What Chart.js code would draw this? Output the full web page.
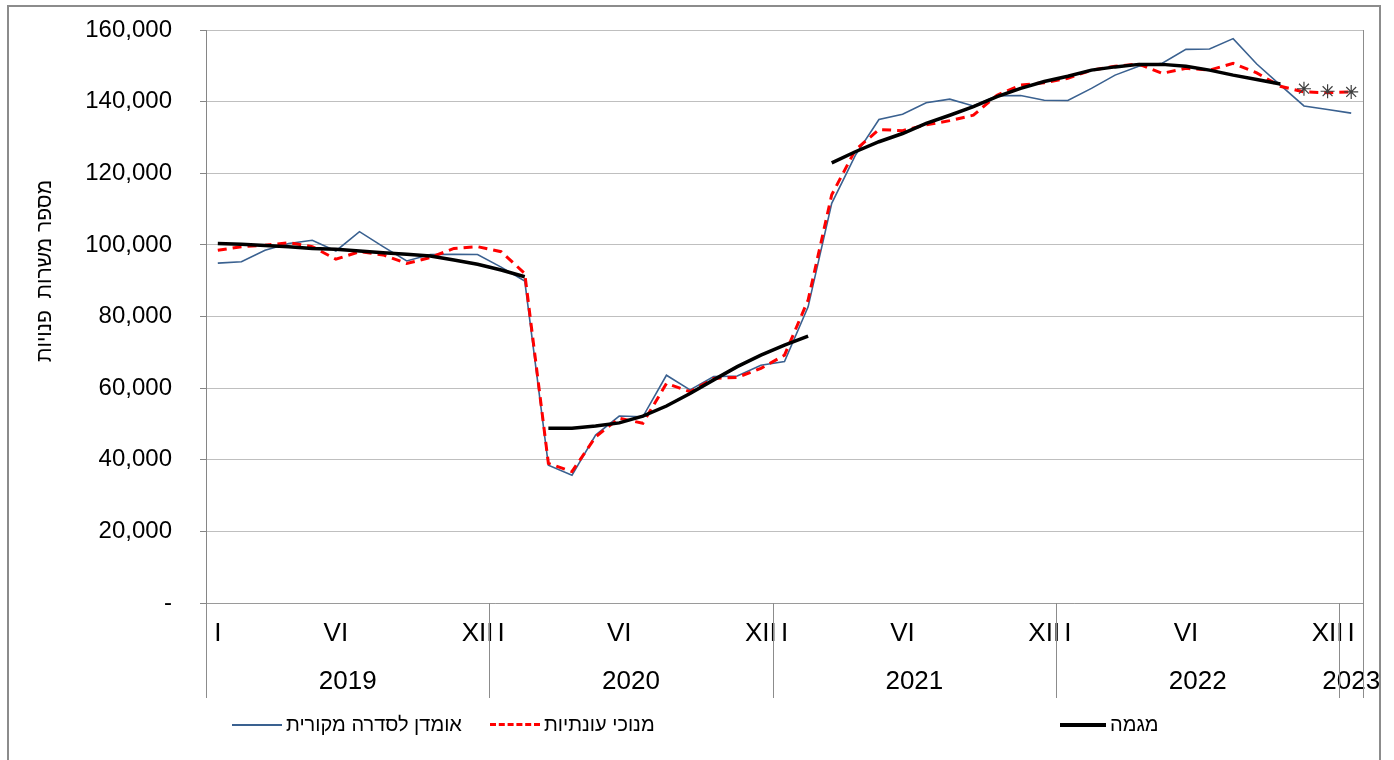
<!DOCTYPE html>
<html>
<head>
<meta charset="utf-8">
<script src="https://cdn.jsdelivr.net/npm/chart.js@4/dist/chart.umd.min.js"></script>
<style>
body{margin:0;background:#fff;font-family:"Liberation Sans",Arial,sans-serif;}
#wrap{position:relative;width:1394px;height:760px;overflow:hidden;}
#frame{position:absolute;left:7px;top:5px;width:1374px;height:780px;border:2px solid #8c8c8c;box-sizing:border-box;}
#chart{position:absolute;left:0;top:0;}
.leg{position:absolute;top:713px;display:flex;align-items:center;font-size:20px;color:#000;white-space:nowrap;}
.leg .smp{display:inline-block;width:50px;margin-right:4px;}
</style>
</head>
<body>
<div id="wrap">
  <div id="frame"></div>
  <canvas id="chart" width="1394" height="760"></canvas>
  <div class="leg" style="left:232px"><span class="smp" style="border-top:2px solid #3a6190"></span><span dir="rtl" id="lg0"></span></div>
  <div class="leg" style="left:490px"><span class="smp" style="border-top:3px dashed #ff0000"></span><span dir="rtl" id="lg1"></span></div>
  <div class="leg" style="left:1060px"><span class="smp" style="border-top:4px solid #000;width:46px"></span><span dir="rtl" id="lg2"></span></div>
</div>
<script>
// months Jan 2019 .. Jan 2023
const months = [1,2,3,4,5,6,7,8,9,10,11,12, 1,2,3,4,5,6,7,8,9,10,11,12, 1,2,3,4,5,6,7,8,9,10,11,12, 1,2,3,4,5,6,7,8,9,10,11,12, 1];
const years = ['2019','2019','2019','2019','2019','2019','2019','2019','2019','2019','2019','2019',
  '2020','2020','2020','2020','2020','2020','2020','2020','2020','2020','2020','2020',
  '2021','2021','2021','2021','2021','2021','2021','2021','2021','2021','2021','2021',
  '2022','2022','2022','2022','2022','2022','2022','2022','2022','2022','2022','2022',
  '2023'];
const romanTicks = {1:'I', 6:'VI', 12:'XII'};

const originalName = 'אומדן לסדרה מקורית';
const adjustedName = 'מנוכי עונתיות';
const trendName = 'מגמה';
const yTitle = 'מספר משרות  פנויות';

const original = [94900,95300,98500,100400,101300,98300,103700,99500,95500,97300,97400,97300,
  93800,89900,38500,35700,46900,52200,52000,63600,59500,63200,63400,66400,
  67400,82700,111600,125000,135000,136500,139700,140700,138800,141600,141700,140400,
  140300,143700,147400,149900,150700,154600,154700,157600,150500,144600,138800,137800,
  136800];
const adjusted = [98500,99500,99900,100600,99500,96000,98100,97200,94800,96500,99000,99500,
  98100,92000,39000,36700,46400,51600,50200,61300,59000,62700,63000,65500,
  69200,84600,114000,126500,132200,131900,133500,134700,136200,141800,144600,145300,
  146500,148800,149900,150500,147900,149300,148800,150700,148000,144300,142700,142500,
  142700];
const trend2019 = [100400,100200,99800,99500,99000,98800,98300,97800,97400,96900,95800,94600,93000,91100,
  null,null,null,null,null,null,null,null,null,null,
  null,null,null,null,null,null,null,null,null,null,null,null,
  null,null,null,null,null,null,null,null,null,null,null,null,null];
const trend2020 = [null,null,null,null,null,null,null,null,null,null,null,null,null,null,
  48800,48800,49400,50300,52200,55000,58500,62300,66000,69200,72000,74500,
  null,null,null,null,null,null,null,null,null,null,null,null,
  null,null,null,null,null,null,null,null,null,null,null,null,null];
const trend2021 = [null,null,null,null,null,null,null,null,null,null,null,null,null,null,
  null,null,null,null,null,null,null,null,null,null,null,null,
  122900,126000,128800,131100,133900,136200,138600,141400,143700,145600,147100,148800,
  149700,150400,150400,149900,148800,147400,146200,144900,null,null,null];
const prelim = [null,null,null,null,null,null,null,null,null,null,null,null,null,null,
  null,null,null,null,null,null,null,null,null,null,null,null,
  null,null,null,null,null,null,null,null,null,null,null,null,
  null,null,null,null,null,null,null,null,143600,142900,142700];

document.getElementById('lg0').textContent = originalName;
document.getElementById('lg1').textContent = adjustedName;
document.getElementById('lg2').textContent = trendName;

Chart.defaults.font.family = '"Liberation Sans", Arial, sans-serif';
Chart.defaults.color = '#000';

const yearBands = {
  id: 'yearBands',
  afterDraw(chart) {
    const {ctx, chartArea, scales: {x}} = chart;
    const half = (x.getPixelForValue(1) - x.getPixelForValue(0)) / 2;
    const bottom = chartArea.bottom + 95;
    ctx.save();
    ctx.strokeStyle = '#8c8c8c';
    ctx.lineWidth = 1;
    ctx.fillStyle = '#000';
    ctx.font = '26px "Liberation Sans", Arial';
    ctx.textAlign = 'center';
    ctx.textBaseline = 'middle';
    let start = 0;
    for (let i = 1; i <= years.length; i++) {
      if (i === years.length || years[i] !== years[start]) {
        const x0 = x.getPixelForValue(start) - half;
        const x1 = x.getPixelForValue(i - 1) + half;
        ctx.fillText(years[start], (x0 + x1) / 2, chartArea.bottom + 79);
        const px = Math.round(x0) + 0.5;
        ctx.beginPath();
        ctx.moveTo(px, chartArea.bottom);
        ctx.lineTo(px, bottom);
        ctx.stroke();
        start = i;
      }
    }
    const rx = Math.round(chartArea.right) + 0.5;
    ctx.beginPath();
    ctx.moveTo(rx, chartArea.top);
    ctx.lineTo(rx, bottom);
    ctx.stroke();
    // y axis title
    ctx.translate(45, 271);
    ctx.rotate(-Math.PI / 2);
    ctx.font = '21px "Liberation Sans", Arial';
    ctx.direction = 'rtl';
    ctx.fillText(yTitle, 0, 0);
    ctx.restore();
  }
};

new Chart(document.getElementById('chart').getContext('2d'), {
  type: 'line',
  data: {
    labels: months,
    datasets: [
      {label: 'prelim', data: prelim, showLine: false, pointStyle: 'star', pointRadius: 7,
        borderColor: '#3f3f3f', borderWidth: 1.2, order: -1},
      {label: trendName, data: trend2019, borderColor: '#000', borderWidth: 3.5, order: 0},
      {label: trendName, data: trend2020, borderColor: '#000', borderWidth: 3.5, order: 0},
      {label: trendName, data: trend2021, borderColor: '#000', borderWidth: 3.5, order: 0},
      {label: adjustedName, data: adjusted, borderColor: '#ff0000', borderWidth: 3, borderDash: [9, 6], order: 1},
      {label: originalName, data: original, borderColor: '#3a6190', borderWidth: 1.6, order: 2}
    ]
  },
  options: {
    responsive: false,
    animation: false,
    layout: {padding: {top: 30, right: 31, left: 0, bottom: 0}},
    elements: {point: {radius: 0}, line: {tension: 0}},
    plugins: {legend: {display: false}, tooltip: {enabled: false}},
    scales: {
      x: {
        offset: true,
        grid: {display: false, drawTicks: false},
        border: {color: '#9a9a9a'},
        ticks: {autoSkip: false, maxRotation: 0, padding: 15, font: {size: 26},
          callback: (v, i) => romanTicks[months[i]] || ''},
        afterFit: s => { s.height = 157; s.paddingLeft = 0; s.paddingRight = 0; }
      },
      y: {
        min: 0, max: 160000,
        ticks: {stepSize: 20000, padding: 28, font: {size: 24},
          callback: v => v === 0 ? '-' : v.toLocaleString('en-US')},
        grid: {color: '#bfbfbf', tickColor: '#868686', tickLength: 6},
        border: {color: '#868686'},
        afterFit: s => { s.width = 206; s.paddingTop = 0; s.paddingBottom = 0; }
      }
    }
  },
  plugins: [yearBands]
});
</script>
</body>
</html>
